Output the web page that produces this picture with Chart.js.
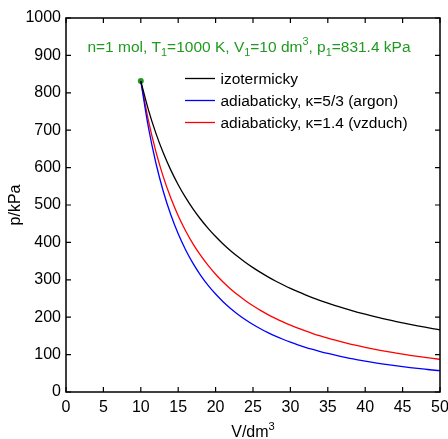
<!DOCTYPE html>
<html>
<head>
<meta charset="utf-8">
<script src="https://cdn.jsdelivr.net/npm/chart.js@4.4.1/dist/chart.umd.min.js"></script>
<style>
  html, body { margin: 0; padding: 0; background: #fff; }
  #wrap { width: 448px; height: 439px; }
</style>
</head>
<body>
<div id="wrap"><canvas id="c" width="448" height="439"></canvas></div>
<script>
// objem V/dm3
const volumes = [10, 11, 12, 13, 14, 15, 16, 17, 18, 19, 20, 21, 22, 23, 24, 25, 26, 27, 28, 29, 30,
  31, 32, 33, 34, 35, 36, 37, 38, 39, 40, 41, 42, 43, 44, 45, 46, 47, 48, 49, 50];
// tlak p/kPa
const pIzoterm = [831.4, 755.8, 692.8, 639.5, 593.9, 554.3, 519.6, 489.1, 461.9, 437.6, 415.7,
  395.9, 377.9, 361.5, 346.4, 332.6, 319.8, 307.9, 296.9, 286.7, 277.1,
  268.2, 259.8, 251.9, 244.5, 237.5, 230.9, 224.7, 218.8, 213.2, 207.9,
  202.8, 198.0, 193.3, 189.0, 184.8, 180.7, 176.9, 173.2, 169.7, 166.3];
const pArgon = [831.4, 709.3, 613.6, 536.9, 474.5, 423.0, 379.8, 343.3, 312.1, 285.2, 261.9,
  241.4, 223.4, 207.5, 193.3, 180.5, 169.1, 158.8, 149.5, 141.0, 133.2,
  126.1, 119.6, 113.7, 108.1, 103.0, 98.3, 93.9, 89.9, 86.0, 82.5,
  79.2, 76.0, 73.1, 70.4, 67.8, 65.3, 63.0, 60.9, 58.8, 56.9];
const pVzduch = [831.4, 727.5, 644.1, 575.8, 519.1, 471.3, 430.6, 395.5, 365.1, 338.5, 315.0,
  294.2, 275.7, 259.1, 244.1, 230.5, 218.2, 207.0, 196.7, 187.3, 178.6,
  170.6, 163.2, 156.3, 149.9, 143.9, 138.4, 133.2, 128.3, 123.7, 119.4,
  115.3, 111.5, 107.9, 104.5, 101.2, 98.2, 95.3, 92.5, 89.9, 87.4];
const startPoint = [{ x: 10, y: 831.4 }];

const legendItems = [
  { text: 'izotermicky', color: '#000000' },
  { text: 'adiabaticky, \u03ba=5/3 (argon)', color: '#0000ff' },
  { text: 'adiabaticky, \u03ba=1.4 (vzduch)', color: '#ff0000' }
];

const FONT = '"Liberation Sans", Arial, sans-serif';
const GREEN = '#1f9a1f';

const toPoints = (ys) => volumes.map((v, i) => ({ x: v, y: ys[i] }));

// text s dolnimi a hornimi indexy
function richWidth(ctx, parts, size) {
    let w = 0;
    parts.forEach(([t, m]) => {
        ctx.font = (m ? size * 0.7 : size) + 'px ' + FONT;
        w += ctx.measureText(t).width;
    });
    return w;
}
function drawRich(ctx, parts, x, y, size) {
    let cx = x;
    parts.forEach(([t, m]) => {
        const s = m ? size * 0.7 : size;
        ctx.font = s + 'px ' + FONT;
        let dy = 0;
        if (m === 'sub') dy = size * 0.25;
        if (m === 'sup') dy = -size * 0.42;
        ctx.fillText(t, cx, y + dy);
        cx += ctx.measureText(t).width;
    });
}

const framePlugin = {
    id: 'frame',
    afterDraw(chart) {
        const { ctx, chartArea: a, scales } = chart;
        ctx.save();
        ctx.strokeStyle = '#000';
        ctx.lineWidth = 1.5;
        ctx.strokeRect(a.left, a.top, a.right - a.left, a.bottom - a.top);
        ctx.lineWidth = 1.2;
        ctx.beginPath();
        const tl = 5;
        scales.x.ticks.forEach(t => {
            const px = scales.x.getPixelForValue(t.value);
            ctx.moveTo(px, a.bottom); ctx.lineTo(px, a.bottom - tl);
            ctx.moveTo(px, a.top); ctx.lineTo(px, a.top + tl);
        });
        scales.y.ticks.forEach(t => {
            const py = scales.y.getPixelForValue(t.value);
            ctx.moveTo(a.left, py); ctx.lineTo(a.left + tl, py);
            ctx.moveTo(a.right, py); ctx.lineTo(a.right - tl, py);
        });
        ctx.stroke();

        // popisek stavu
        ctx.fillStyle = GREEN;
        ctx.textBaseline = 'alphabetic';
        const title = [['n=1 mol, T'], ['1', 'sub'], ['=1000 K, V'], ['1', 'sub'], ['=10 dm'], ['3', 'sup'],
            [', p'], ['1', 'sub'], ['=831.4 kPa']];
        const tw = richWidth(ctx, title, 15.5);
        drawRich(ctx, title, 249 - tw / 2, 52, 15.5);

        // legenda
        legendItems.forEach((it, i) => {
            const y = 78.5 + i * 22;
            ctx.strokeStyle = it.color;
            ctx.lineWidth = 1.3;
            ctx.beginPath();
            ctx.moveTo(185, y); ctx.lineTo(215, y);
            ctx.stroke();
            ctx.fillStyle = '#000';
            ctx.font = '15.5px ' + FONT;
            ctx.textBaseline = 'middle';
            ctx.fillText(it.text, 220.5, y + 1.5);
        });

        // popisky os
        ctx.fillStyle = '#000';
        ctx.textBaseline = 'alphabetic';
        const xt = [['V/dm'], ['3', 'sup']];
        const xw = richWidth(ctx, xt, 16);
        drawRich(ctx, xt, (a.left + a.right) / 2 - xw / 2, 437, 16);
        ctx.save();
        ctx.translate(20, (a.top + a.bottom) / 2);
        ctx.rotate(-Math.PI / 2);
        ctx.font = '16px ' + FONT;
        ctx.textAlign = 'center';
        ctx.fillText('p/kPa', 0, 0);
        ctx.restore();
        ctx.restore();
    }
};

const lineDs = (ys, color) => ({
    data: toPoints(ys),
    borderColor: color,
    borderWidth: 1.3,
    pointRadius: 0,
    fill: false,
    cubicInterpolationMode: 'monotone'
});

new Chart(document.getElementById('c'), {
    type: 'line',
    data: {
        datasets: [
            lineDs(pIzoterm, '#000000'),
            lineDs(pArgon, '#0000ff'),
            lineDs(pVzduch, '#ff0000'),
            {
                type: 'scatter',
                data: startPoint,
                pointRadius: 3,
                pointBackgroundColor: GREEN,
                pointBorderColor: GREEN,
                pointBorderWidth: 0
            }
        ]
    },
    options: {
        responsive: false,
        animation: false,
        layout: { padding: { top: 18, right: 8, left: 0, bottom: 0 } },
        plugins: { legend: { display: false }, tooltip: { enabled: false }, title: { display: false } },
        scales: {
            x: {
                type: 'linear', min: 0, max: 50,
                ticks: { stepSize: 5, color: '#000', font: { family: FONT, size: 16 }, padding: 6, maxRotation: 0,
                    callback: (v) => String(v) },
                grid: { display: false, drawTicks: false },
                border: { display: false },
                afterFit: (s) => { s.height = 47; s.paddingLeft = 0; s.paddingRight = 0; }
            },
            y: {
                type: 'linear', min: 0, max: 1000,
                ticks: { stepSize: 100, color: '#000', font: { family: FONT, size: 16 }, padding: 5,
                    callback: (v) => String(v) },
                grid: { display: false, drawTicks: false },
                border: { display: false },
                afterFit: (s) => { s.width = 66; s.paddingTop = 0; s.paddingBottom = 0; }
            }
        }
    },
    plugins: [framePlugin]
});
</script>
</body>
</html>
